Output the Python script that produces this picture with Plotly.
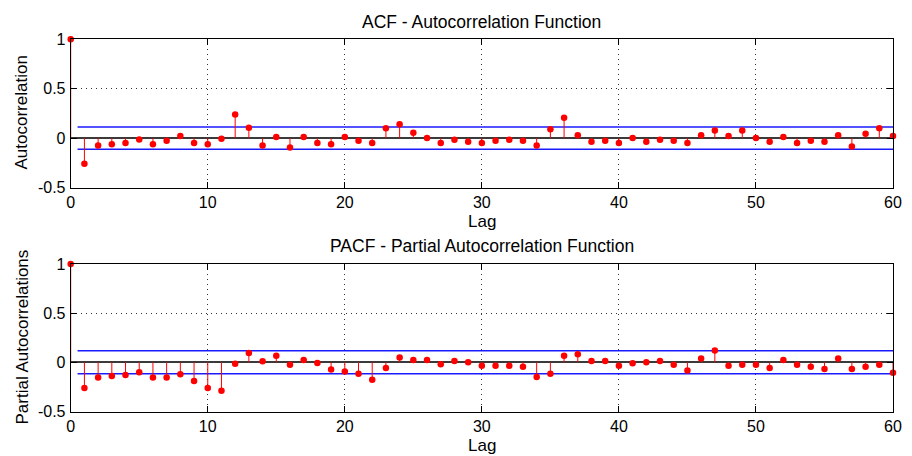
import plotly.graph_objects as go

# Sample autocorrelation and partial autocorrelation, lags 0..60
lags = list(range(0, 61))

acf_values = [
    1.0, -0.26, -0.075, -0.061, -0.05, -0.014, -0.061, -0.027, 0.02, -0.05,
    -0.061, -0.007, 0.24, 0.105, -0.075, 0.01, -0.095, 0.01, -0.05, -0.061,
    0.01, -0.027, -0.05, 0.10, 0.14, 0.054, 0.0, -0.05, -0.017, -0.037,
    -0.05, -0.027, -0.017, -0.027, -0.075, 0.09, 0.207, 0.03, -0.037, -0.027,
    -0.05, 0.0, -0.037, -0.017, -0.027, -0.05, 0.03, 0.078, 0.02, 0.078,
    0.0, -0.037, 0.01, -0.05, -0.027, -0.037, 0.03, -0.085, 0.044, 0.10,
    0.02,
]

pacf_values = [
    1.0, -0.26, -0.154, -0.14, -0.13, -0.10, -0.154, -0.154, -0.12, -0.19,
    -0.26, -0.29, -0.014, 0.096, 0.01, 0.068, -0.024, 0.024, -0.007, -0.072,
    -0.092, -0.116, -0.177, -0.058, 0.048, 0.024, 0.024, -0.02, 0.014, 0.0,
    -0.034, -0.034, -0.034, -0.044, -0.15, -0.116, 0.068, 0.082, 0.014, 0.014,
    -0.034, -0.01, 0.0, 0.014, -0.024, -0.082, 0.038, 0.12, -0.034, -0.024,
    -0.024, -0.058, 0.024, -0.024, -0.044, -0.068, 0.038, -0.068, -0.044, -0.024,
    -0.106,
]

# Approximate 95% confidence bounds
acf_bound = 0.112
pacf_bound = 0.117
bound_span = [0.5, 60]

x_ticks = [0, 10, 20, 30, 40, 50, 60]
y_ticks = [-0.5, 0, 0.5, 1]
y_ticktext = ["-0.5", "0", "0.5", "1"]

FONT = "Liberation Sans, Arial, sans-serif"
W, H = 912, 456


def stem_xy(xs, ys):
    sx, sy = [], []
    for xv, yv in zip(xs, ys):
        sx += [xv, xv, None]
        sy += [0, yv, None]
    return sx, sy


fig = go.Figure()

for idx, (vals, bound) in enumerate([(acf_values, acf_bound), (pacf_values, pacf_bound)]):
    xa = "x" if idx == 0 else "x2"
    ya = "y" if idx == 0 else "y2"
    sx, sy = stem_xy(lags, vals)
    # confidence bounds
    for b in (bound, -bound):
        fig.add_trace(go.Scatter(
            x=bound_span, y=[b, b], mode="lines",
            line=dict(color="#1a1aff", width=1.5),
            xaxis=xa, yaxis=ya, showlegend=False, hoverinfo="skip",
        ))
    # stems
    fig.add_trace(go.Scatter(
        x=sx, y=sy, mode="lines",
        line=dict(color="#ff0000", width=1),
        xaxis=xa, yaxis=ya, showlegend=False, hoverinfo="skip",
    ))
    # stem heads
    fig.add_trace(go.Scatter(
        x=lags, y=vals, mode="markers",
        marker=dict(color="#ff0000", size=6.5, line=dict(width=0)),
        cliponaxis=False,
        xaxis=xa, yaxis=ya, showlegend=False,
    ))

x_dom = [70.7 / W, 893 / W]
acf_dom = [1 - 187.5 / H, 1 - 39.3 / H]
pacf_dom = [1 - 411.5 / H, 1 - 264 / H]

xaxis_common = dict(
    range=[0, 60], tickvals=x_ticks, ticks="inside", ticklen=6,
    tickcolor="#000000", showline=True, linecolor="#000000", linewidth=1,
    mirror="ticks", showgrid=True, gridcolor="#333333", griddash="1px,4px",
    gridwidth=1, zeroline=False, automargin=False,
    tickfont=dict(family=FONT, size=16, color="#000000"),
    ticklabelstandoff=0,
    domain=x_dom, fixedrange=True,
)
yaxis_common = dict(
    range=[-0.5, 1], tickvals=y_ticks, ticktext=y_ticktext, ticks="inside",
    ticklen=6, tickcolor="#000000", showline=True, linecolor="#000000",
    linewidth=1, mirror="ticks", showgrid=True, gridcolor="#333333",
    griddash="1px,4px", gridwidth=1, zeroline=True, zerolinecolor="#3a3a3a",
    zerolinewidth=1.5, automargin=False, ticklabelstandoff=1,
    tickfont=dict(family=FONT, size=16, color="#000000"),
    fixedrange=True,
)

fig.update_layout(
    template="none",
    width=W, height=H,
    margin=dict(l=0, r=0, t=0, b=0),
    paper_bgcolor="#ffffff", plot_bgcolor="#ffffff",
    xaxis=dict(xaxis_common, anchor="y"),
    yaxis=dict(yaxis_common, domain=acf_dom, anchor="x"),
    xaxis2=dict(xaxis_common, anchor="y2"),
    yaxis2=dict(yaxis_common, domain=pacf_dom, anchor="x2"),
    font=dict(family=FONT, color="#000000"),
)

xc = (x_dom[0] + x_dom[1]) / 2
texts = [
    ("ACF - Autocorrelation Function", xc, 1 - 21.5 / H, 17.5, 0),
    ("Lag", xc, 1 - 221 / H, 17, 0),
    ("PACF - Partial Autocorrelation Function", xc, 1 - 246 / H, 17.5, 0),
    ("Lag", xc, 1 - 445 / H, 17, 0),
    ("Autocorrelation", 21.5 / W, 1 - 113 / H, 17, -90),
    ("Partial Autocorrelations", 21.5 / W, 1 - 337 / H, 17, -90),
]
for t, x, y, size, ang in texts:
    fig.add_annotation(
        text=t, x=x, y=y, xref="paper", yref="paper",
        xanchor="center", yanchor="middle", showarrow=False,
        textangle=ang, font=dict(family=FONT, size=size, color="#000000"),
    )

fig.write_html("out.html")
